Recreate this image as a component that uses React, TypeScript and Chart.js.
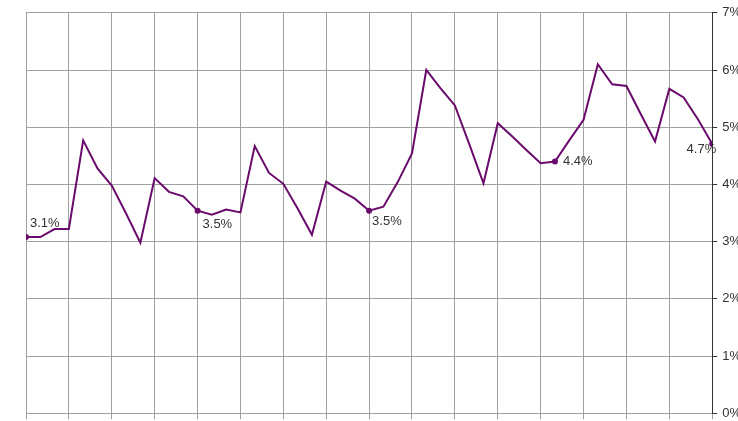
import React, { useEffect, useRef } from "react";
import { Chart, registerables } from "chart.js";

Chart.register(...registerables);

// 49 monthly observations (gridlines every 3 months)
const rates: number[] = [
  3.08, 3.08, 3.22, 3.22, 4.77, 4.28, 3.98, 3.49, 2.98, 4.11,
  3.87, 3.79, 3.54, 3.47, 3.56, 3.51, 4.67, 4.2, 4.01, 3.58,
  3.12, 4.05, 3.89, 3.75, 3.54, 3.61, 4.04, 4.54, 6.0, 5.68,
  5.38, 4.71, 4.02, 5.07, 4.84, 4.6, 4.37, 4.4, 4.77, 5.13,
  6.1, 5.75, 5.72, 5.23, 4.75, 5.67, 5.52, 5.14, 4.71,
];
const labeledIdx: number[] = [0, 12, 24, 37, 48];
const labelTexts: string[] = ["3.1%", "3.5%", "3.5%", "4.4%", "4.7%"];
const yTicks: number[] = [0, 1, 2, 3, 4, 5, 6, 7];

const LINE = "#6a0a6c";

const labelPlugin = {
  id: "pointLabels",
  afterDatasetsDraw(chart: any) {
    const ctx = chart.ctx;
    const meta = chart.getDatasetMeta(0);
    ctx.save();
    ctx.font = "13px 'Liberation Sans', Arial, sans-serif";
    ctx.fillStyle = "#333333";
    ctx.textBaseline = "middle";
    labeledIdx.forEach((idx, k) => {
      const el = meta.data[idx];
      if (!el) return;
      const x = el.x;
      const y = el.y;
      if (k === 0) {
        ctx.textAlign = "left";
        ctx.fillText(labelTexts[k], x + 4, y - 14);
      } else if (k === 1) {
        ctx.textAlign = "left";
        ctx.fillText(labelTexts[k], x + 5, y + 14);
      } else if (k === 2) {
        ctx.textAlign = "left";
        ctx.fillText(labelTexts[k], x + 3, y + 11);
      } else if (k === 3) {
        ctx.textAlign = "left";
        ctx.fillText(labelTexts[k], x + 8, y);
      } else {
        ctx.textAlign = "right";
        ctx.fillText(labelTexts[k], x + 4, y + 6);
      }
    });
    ctx.restore();
  },
};

export default function App() {
  const ref = useRef<HTMLCanvasElement | null>(null);
  useEffect(() => {
    document.body.style.margin = "0";
    document.body.style.overflow = "hidden";
    if (!ref.current) return;
    const pts = rates.map((v, i) => ({ x: i, y: v }));
    const radii = rates.map((_, i) => (labeledIdx.includes(i) ? 3 : 0));
    const chart = new Chart(ref.current, {
      type: "line",
      data: {
        datasets: [
          {
            data: pts,
            borderColor: LINE,
            backgroundColor: LINE,
            borderWidth: 2,
            pointRadius: radii,
            pointBackgroundColor: LINE,
            pointBorderWidth: 0,
            tension: 0,
          },
        ],
      },
      options: {
        animation: false,
        responsive: false,
        maintainAspectRatio: false,
        devicePixelRatio: 1,
        layout: { padding: { left: 26, top: 12, right: 4, bottom: 2 } },
        plugins: { legend: { display: false }, tooltip: { enabled: false } },
        scales: {
          x: {
            type: "linear",
            min: 0,
            max: rates.length - 1,
            ticks: { display: false, stepSize: 3 },
            grid: { color: "#a0a0a0", lineWidth: 1, tickLength: 6, drawTicks: true },
            border: { color: "#a0a0a0" },
          },
          y: {
            position: "right",
            min: 0,
            max: 7,
            afterBuildTicks: (axis: any) => {
              axis.ticks = yTicks.map((v) => ({ value: v }));
            },
            ticks: {
              callback: (v: any) => v + "%",
              color: "#333333",
              padding: 5,
              font: { family: "'Liberation Sans', Arial, sans-serif", size: 13 },
            },
            grid: { color: "#a0a0a0", lineWidth: 1, tickLength: 5, tickColor: "#333333" },
            border: { color: "#333333", width: 1 },
          },
        },
      },
      plugins: [labelPlugin],
    });
    return () => chart.destroy();
  }, []);
  return (
    <div style={{ width: 738, height: 421, overflow: "hidden", position: "relative" }}>
      <canvas ref={ref} width={750} height={426} style={{ display: "block", width: 750, height: 426 }} />
    </div>
  );
}
